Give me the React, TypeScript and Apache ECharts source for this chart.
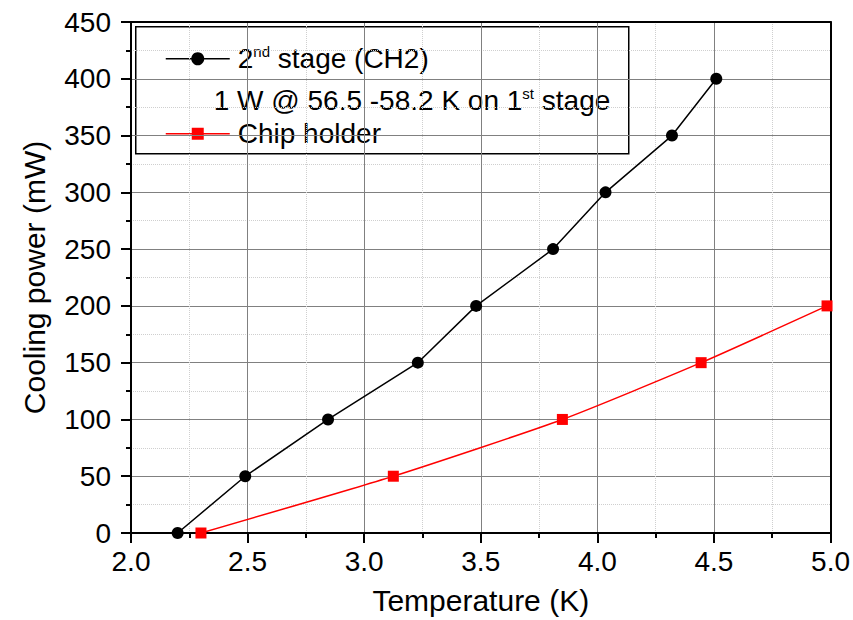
import React, { useEffect, useRef } from "react";
import * as echarts from "echarts";

const stage2Temps = [2.2, 2.49, 2.845, 3.23, 3.48, 3.81, 4.035, 4.32, 4.51];
const stage2Power = [0, 50, 100, 150, 200, 250, 300, 350, 400];
const chipTemps = [2.3, 3.125, 3.85, 4.445, 4.985];
const chipPower = [0, 50, 100, 150, 200];
const xTicks = { min: 2.0, max: 5.0, interval: 0.5 };
const yTicks = { min: 0, max: 450, interval: 50 };
const seriesNames = ["2nd stage (CH2)", "Chip holder"];

const FONT = "'Liberation Sans', Arial, sans-serif";

export default function App() {
  const ref = useRef<HTMLDivElement>(null);
  useEffect(() => {
    if (!ref.current) return;
    const chart = echarts.init(ref.current, null, { renderer: "svg" });
    const axisCommon = {
      axisLine: { show: true, onZero: false, lineStyle: { color: "#000", width: 2 } },
      axisTick: { show: true, inside: false, length: 10, lineStyle: { color: "#000", width: 2 } },
      minorTick: { show: true, splitNumber: 2, length: 5, lineStyle: { color: "#000", width: 2 } },
      splitLine: { show: true, lineStyle: { color: "#808080", width: 1 } },
      minorSplitLine: { show: true, lineStyle: { color: "#cfcfcf", width: 1, type: "dotted" } },
      axisLabel: { color: "#000", fontSize: 28, fontFamily: FONT },
      nameTextStyle: { color: "#000", fontSize: 30, fontFamily: FONT },
      nameLocation: "middle",
    };
    const frameAxis = {
      axisLine: { show: true, onZero: false, lineStyle: { color: "#000", width: 2 } },
      axisTick: { show: false },
      axisLabel: { show: false },
      splitLine: { show: false },
    };
    const rich = {
      n: { fontSize: 28, fontFamily: FONT, fill: "#000", lineHeight: 30 },
      s: { fontSize: 15, fontFamily: FONT, fill: "#000", lineHeight: 16, verticalAlign: "top" },
    };
    chart.setOption({
      animation: false,
      backgroundColor: "#fff",
      grid: { left: 131, right: 21, top: 22, bottom: 84, containLabel: false },
      xAxis: [
        {
          type: "value",
          ...xTicks,
          ...axisCommon,
          name: "Temperature (K)",
          nameGap: 52,
          axisLabel: { ...axisCommon.axisLabel, margin: 14, formatter: (v: number) => v.toFixed(1) },
        },
        { type: "value", position: "top", ...xTicks, ...frameAxis },
      ],
      yAxis: [
        {
          type: "value",
          ...yTicks,
          ...axisCommon,
          name: "Cooling power (mW)",
          nameGap: 82,
          axisLabel: { ...axisCommon.axisLabel, margin: 20 },
        },
        { type: "value", position: "right", ...yTicks, ...frameAxis },
      ],
      series: [
        {
          name: seriesNames[0],
          type: "line",
          data: stage2Temps.map((t, i) => [t, stage2Power[i]]),
          symbol: "circle",
          symbolSize: 12,
          lineStyle: { color: "#000", width: 1.5 },
          itemStyle: { color: "#000" },
          z: 5,
        },
        {
          name: seriesNames[1],
          type: "line",
          data: chipTemps.map((t, i) => [t, chipPower[i]]),
          symbol: "rect",
          symbolSize: 11,
          smooth: 0.2,
          lineStyle: { color: "#ff0000", width: 1.5 },
          itemStyle: { color: "#ff0000" },
          z: 5,
        },
      ],
      graphic: [
        {
          type: "group",
          left: 135,
          top: 26,
          z: 100,
          children: [
            {
              type: "rect",
              shape: { x: 0, y: 0, width: 493, height: 127 },
              style: { fill: "#fff", stroke: "#000", lineWidth: 1.5 },
            },
            { type: "line", shape: { x1: 30, y1: 32, x2: 94, y2: 32 }, style: { stroke: "#000", lineWidth: 1.5 } },
            { type: "circle", shape: { cx: 62, cy: 32, r: 6.5 }, style: { fill: "#000" } },
            {
              type: "text",
              x: 102,
              y: 32,
              style: { text: "{n|2}{s|nd}{n| stage (CH2)}", verticalAlign: "middle", rich },
            },
            {
              type: "text",
              x: 78,
              y: 74,
              style: { text: "{n|1 W @ 56.5 -58.2 K on 1}{s|st}{n| stage}", verticalAlign: "middle", rich },
            },
            { type: "line", shape: { x1: 30, y1: 107, x2: 94, y2: 107 }, style: { stroke: "#ff0000", lineWidth: 1.5 } },
            { type: "rect", shape: { x: 56, y: 101, width: 12, height: 12 }, style: { fill: "#ff0000" } },
            {
              type: "text",
              x: 102,
              y: 107,
              style: { text: seriesNames[1], verticalAlign: "middle", fontSize: 28, fontFamily: FONT, fill: "#000" },
            },
          ],
        },
      ],
    });
    return () => chart.dispose();
  }, []);
  return (
    <div
      ref={ref}
      style={{ position: "fixed", left: 0, top: 0, width: 853, height: 620, background: "#fff" }}
    />
  );
}
